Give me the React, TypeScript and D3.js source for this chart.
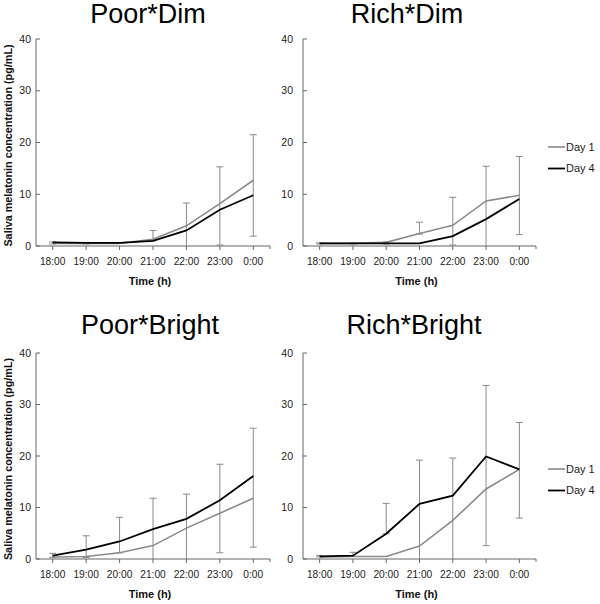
import * as d3 from 'd3';

// categories (time of day)
const times = ['18:00', '19:00', '20:00', '21:00', '22:00', '23:00', '0:00'];
const yTicks = [0, 10, 20, 30, 40];
const seriesNames = ['Day 1', 'Day 4'];

// Poor*Dim
const poorDimDay1 = [0.5, 0.5, 0.5, 1.3, 3.9, 8.2, 12.7];
const poorDimDay4 = [0.7, 0.6, 0.6, 1.0, 3.0, 7.0, 9.8];
const poorDimErrLo = [0.4, 0.4, 0.5, 1.0, 0, 0.2, 1.9];
const poorDimErrHi = [0.8, 0.7, 0.6, 3.0, 8.3, 15.3, 21.5];

// Rich*Dim
const richDimDay1 = [0.5, 0.5, 0.7, 2.4, 4.0, 8.7, 9.8];
const richDimDay4 = [0.5, 0.5, 0.5, 0.5, 1.9, 5.2, 9.1];
const richDimErrLo = [0.4, 0.4, 0.4, 2.3, 0.2, 0, 2.2];
const richDimErrHi = [0.6, 0.6, 0.8, 4.6, 9.4, 15.4, 17.3];

// Poor*Bright
const poorBrightDay1 = [0.4, 0.5, 1.2, 2.6, 6.0, 8.9, 11.8];
const poorBrightDay4 = [0.65, 1.8, 3.4, 5.8, 7.8, 11.4, 16.1];
const poorBrightErrLo = [0.3, 0.3, 1.2, 0, 0, 1.2, 2.3];
const poorBrightErrHi = [1.1, 4.5, 8.1, 11.8, 12.6, 18.4, 25.4];

// Rich*Bright
const richBrightDay1 = [0.4, 0.5, 0.5, 2.5, 7.5, 13.6, 17.4];
const richBrightDay4 = [0.5, 0.65, 4.9, 10.7, 12.3, 19.9, 17.4];
const richBrightErrLo = [0.4, 0.5, 4.9, 0, 0, 2.6, 7.95];
const richBrightErrHi = [0.7, 1.3, 10.8, 19.2, 19.6, 33.7, 26.5];

const FONT = '"Liberation Sans", Arial, Helvetica, sans-serif';
const GREY = '#8a8a8a';
const AXIS = '#666';

interface PanelProps {
    title: string;
    day1: number[];
    day4: number[];
    errLo: number[];
    errHi: number[];
    x0: number;
    x1: number;
    yTop: number;
    yBottom: number;
    titleX: number;
    titleY: number;
    labelGap: number;
    yLabel?: boolean;
    legendY?: number;
}

const Panel = ({ title, day1, day4, errLo, errHi, x0, x1, yTop, yBottom, titleX, titleY, labelGap, yLabel, legendY }: PanelProps) => {
    const x = d3.scaleBand().domain(times).range([x0, x1]).padding(0);
    const y = d3.scaleLinear().domain([0, 40]).range([yBottom, yTop]);
    const cx = (t: string) => (x(t) || 0) + x.bandwidth() / 2;

    const line = d3.line<number>()
        .x((_d, i) => cx(times[i]))
        .y(d => y(d));

    const capW = 3.5;

    return (
        <g>
            <text x={titleX} y={titleY} textAnchor="middle" fontSize={27} fontFamily={FONT} fill="#000">{title}</text>

            {/* axes */}
            <line x1={x0} x2={x0} y1={yTop} y2={yBottom} stroke={AXIS} strokeWidth={1} />
            <line x1={x0} x2={x1} y1={yBottom} y2={yBottom} stroke={AXIS} strokeWidth={1} />
            {yTicks.map(t => (
                <g key={t}>
                    <line x1={x0} x2={x0 + 4} y1={y(t)} y2={y(t)} stroke={AXIS} />
                    <text x={x0 - labelGap} y={y(t)} dy="0.35em" textAnchor="end" fontSize={10.5} fontFamily={FONT} fill="#222">{t}</text>
                </g>
            ))}
            {times.map(t => (
                <g key={t}>
                    <line x1={cx(t)} x2={cx(t)} y1={yBottom} y2={yBottom + 4} stroke={AXIS} />
                    <text x={cx(t)} y={yBottom + 18.5} textAnchor="middle" fontSize={10.2} fontFamily={FONT} fill="#222">{t}</text>
                </g>
            ))}
            <line x1={x1} x2={x1} y1={yBottom} y2={yBottom + 3} stroke={AXIS} />
            <text x={(x0 + x1) / 2 - 3} y={yBottom + 38.5} textAnchor="middle" fontSize={11} fontWeight="bold" fontFamily={FONT} fill="#111">Time (h)</text>

            {yLabel && (
                <text
                    transform={`translate(12,${(yTop + yBottom) / 2 + 3}) rotate(-90)`}
                    textAnchor="middle" fontSize={10.8} fontWeight="bold" fontFamily={FONT} fill="#111"
                >Saliva melatonin concentration (pg/mL)</text>
            )}

            {/* error bars */}
            {times.map((t, i) => (
                <g key={t} stroke={GREY} strokeWidth={1}>
                    <line x1={cx(t)} x2={cx(t)} y1={y(errLo[i])} y2={y(errHi[i])} />
                    <line x1={cx(t) - capW} x2={cx(t) + capW} y1={y(errHi[i])} y2={y(errHi[i])} />
                    {errLo[i] > 0.1 && (
                        <line x1={cx(t) - capW} x2={cx(t) + capW} y1={y(errLo[i])} y2={y(errLo[i])} />
                    )}
                </g>
            ))}

            <path d={line(day1) || ''} fill="none" stroke={GREY} strokeWidth={1.6} />
            <path d={line(day4) || ''} fill="none" stroke="#000" strokeWidth={1.8} />

            {legendY !== undefined && seriesNames.map((s, i) => (
                <g key={s}>
                    <line x1={x1 + 12} x2={x1 + 29} y1={legendY + i * 21.5} y2={legendY + i * 21.5}
                        stroke={i === 0 ? GREY : '#000'} strokeWidth={i === 0 ? 1.6 : 1.8} />
                    <text x={x1 + 30} y={legendY + i * 21.5} dy="0.36em" fontSize={11} fontFamily={FONT} fill="#222">{s}</text>
                </g>
            ))}
        </g>
    );
};

export default function App() {
    return (
        <svg width={600} height={604} style={{ position: 'absolute', left: 0, top: 0, background: '#fff' }}>
            <rect width={600} height={604} fill="#fff" />
            <Panel title="Poor*Dim" day1={poorDimDay1} day4={poorDimDay4} errLo={poorDimErrLo} errHi={poorDimErrHi}
                x0={36} x1={270} yTop={39} yBottom={246} titleX={148} titleY={23} labelGap={5} yLabel />
            <Panel title="Rich*Dim" day1={richDimDay1} day4={richDimDay4} errLo={richDimErrLo} errHi={richDimErrHi}
                x0={303} x1={536} yTop={39} yBottom={246} titleX={407} titleY={23} labelGap={10} legendY={147} />
            <Panel title="Poor*Bright" day1={poorBrightDay1} day4={poorBrightDay4} errLo={poorBrightErrLo} errHi={poorBrightErrHi}
                x0={36} x1={270} yTop={353} yBottom={559} titleX={150} titleY={334} labelGap={5} yLabel />
            <Panel title="Rich*Bright" day1={richBrightDay1} day4={richBrightDay4} errLo={richBrightErrLo} errHi={richBrightErrHi}
                x0={303} x1={536} yTop={353} yBottom={559} titleX={414} titleY={334} labelGap={10} legendY={469} />
        </svg>
    );
}
